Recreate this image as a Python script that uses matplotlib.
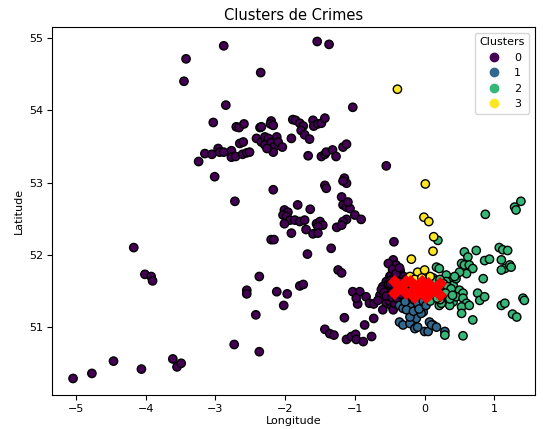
import matplotlib
matplotlib.use('Agg')
import matplotlib.pyplot as plt
import numpy as np

# Cluster 0 (spread over the country)
lon_c0 = [-5.04, -4.77, -4.46, -4.06, -3.61, -3.55, -3.49, -4.17, -4.01, -3.92, -3.90,
          -2.88, -3.42, -3.45, -2.85, -3.03, -2.70, -2.66, -2.59, -2.65, -2.60,
          -3.15, -3.05, -2.96, -2.94, -2.88, -2.77, -2.77, -2.71, -2.61, -2.55, -2.51,
          -3.24, -3.01, -2.72,
          -1.54, -1.37, -2.35, -1.03, -2.36, -2.34, -2.20, -2.21, -2.17, -1.89, -1.85,
          -1.79, -1.74, -1.77, -1.72, -1.65, -1.60, -1.59, -1.53, -1.48, -1.43, -1.91,
          -2.41, -2.34, -2.29, -2.24, -2.29, -2.22, -2.20, -2.15, -2.12, -2.10, -2.04,
          -2.17, -2.26, -1.67, -1.48, -1.43, -1.41, -1.32, -1.27, -1.17, -1.12, -0.55,
          -2.17, -1.43, -1.41, -1.15, -1.12, -1.17, -1.19,
          -1.17, -1.12, -1.07, -1.10, -1.00, -0.91, -1.12, -1.17, -1.26, -1.19,
          -2.01, -1.96, -2.03, -1.98, -1.93, -2.01, -1.86, -1.79, -1.72, -1.82, -1.64,
          -1.70, -1.91, -1.55, -1.50, -1.46, -1.53, -1.60, -1.53, -2.20, -2.16,
          -1.34, -1.68, -0.44, -1.24, -1.19, -2.37, -1.79, -1.74, -2.55, -2.55,
          -2.12, -1.97, -2.02, -2.42, -1.03, -0.93, -0.96, -0.84, -0.79, -0.73,
          -1.15, -0.73, -1.43, -1.36, -1.30, -1.12, -1.05, -0.99, -0.98, -0.88, -0.76,
          -2.73, -2.37,
          -0.45, -0.41, -0.45, -0.50, -0.55, -0.60, -0.57, -0.50, -0.60, -0.55, -0.48,
          -0.41, -0.45, -0.60, -0.64, -0.67, -0.98, -0.86,
          -0.52, -0.35, -0.30, -0.42, -0.25, -0.33, -0.28, -0.38, -0.20, -0.15, -0.35,
          -0.22, -0.47, -0.40, -0.32, -0.52, -0.44, -0.38,
          -0.48, -0.43, -0.37, -0.31, -0.26, -0.53, -0.47, -0.40, -0.34, -0.28, -0.22,
          -0.56, -0.50, -0.44, -0.38, -0.30, -0.46, -0.41, -0.36, -0.27, -0.18, -0.52,
          -0.43, -0.33, -0.62, -0.58, -0.49, -0.39,
          -0.45, -0.39, -0.33, -0.27, -0.21, -0.49, -0.42, -0.35, -0.29, -0.24, -0.55,
          -0.47, -0.40, -0.34]
lat_c0 = [50.29, 50.36, 50.53, 50.42, 50.56, 50.45, 50.50, 52.10, 51.73, 51.70, 51.64,
          54.89, 54.71, 54.40, 54.07, 53.83, 53.77, 53.76, 53.81, 53.54, 53.56,
          53.40, 53.39, 53.47, 53.42, 53.42, 53.44, 53.35, 53.36, 53.39, 53.41, 53.42,
          53.29, 53.08, 52.74,
          54.95, 54.91, 54.52, 54.04, 53.76, 53.77, 53.85, 53.81, 53.79, 53.87, 53.86,
          53.82, 53.78, 53.72, 53.66, 53.60, 53.86, 53.78, 53.81, 53.82, 53.89, 53.61,
          53.61, 53.56, 53.63, 53.61, 53.52, 53.49, 53.55, 53.50, 53.63, 53.56, 53.49,
          53.42, 53.47, 53.37, 53.36, 53.39, 53.42, 53.45, 53.36, 53.49, 53.53, 53.23,
          52.90, 52.96, 52.92, 53.06, 52.99, 53.02, 52.80,
          52.69, 52.66, 52.64, 52.73, 52.55, 52.49, 52.49, 52.46, 52.38, 52.41,
          52.62, 52.59, 52.55, 52.53, 52.48, 52.43, 52.48, 52.46, 52.48, 52.69, 52.63,
          52.35, 52.30, 52.43, 52.46, 52.41, 52.39, 52.29, 52.30, 52.21, 52.21,
          52.09, 52.01, 52.18, 51.79, 51.75, 51.70, 51.57, 51.59, 51.51, 51.46,
          51.49, 51.46, 51.30, 51.17, 51.49, 51.49, 51.32, 51.42, 51.33, 51.32,
          51.13, 51.12, 50.97, 50.91, 50.89, 50.83, 50.87, 50.90, 50.83, 50.80, 50.87,
          50.76, 50.66,
          51.93, 51.86, 51.76, 51.70, 51.63, 51.56, 51.51, 51.44, 51.40, 51.33, 51.30,
          51.35, 51.24, 51.24, 51.44, 51.37, 51.40, 51.03,
          51.88, 51.78, 51.68, 51.62, 51.60, 51.50, 51.45, 51.42, 51.52, 51.55, 51.55,
          51.48, 51.58, 51.66, 51.60, 51.46, 51.38, 51.50,
          51.72, 51.70, 51.66, 51.62, 51.58, 51.54, 51.52, 51.47, 51.44, 51.40, 51.44,
          51.47, 51.36, 51.56, 51.61, 51.70, 51.80, 51.74, 51.82, 51.66, 51.62, 51.60,
          51.33, 51.36, 51.52, 51.48, 51.64, 51.58,
          51.49, 51.51, 51.48, 51.50, 51.46, 51.60, 51.57, 51.62, 51.56, 51.64, 51.43,
          51.41, 51.40, 51.45]

# Cluster 1 (south of the centre)
lon_c1 = [-0.36, -0.31, -0.21, -0.17, -0.12, -0.36, -0.31, -0.21, 0.07, 0.12, -0.02,
          -0.07, 0.29, -0.14, -0.10, 0.00, 0.05, 0.10, 0.17, -0.21, -0.05,
          -0.25, -0.15, -0.05, 0.05, -0.10, -0.28, -0.02,
          -0.20, -0.12, 0.00, 0.08, -0.26, -0.16, -0.08, 0.02]
lat_c1 = [51.30, 51.26, 51.28, 51.17, 51.12, 51.07, 51.03, 51.05, 51.07, 51.03, 51.21,
          51.30, 50.94, 50.98, 51.00, 50.94, 50.94, 51.03, 51.00, 51.14, 51.19,
          51.40, 51.38, 51.42, 51.38, 51.33, 51.35, 51.36,
          51.45, 51.46, 51.45, 51.44, 51.24, 51.22, 51.25, 51.30]

# Cluster 2 (east)
lon_c2 = [0.17, 0.21, 0.31, 0.36, 0.41, 0.45, 0.31, 0.36, 0.41, 0.26, 0.21, 0.36,
          0.19, 0.57, 0.62, 0.74, 0.53, 0.57, 0.64, 0.69, 0.60, 0.50, 0.43, 0.31,
          0.33, 0.41, 0.50, 0.55, 0.45, 0.24, 0.55, 0.60, 0.53, 0.64, 0.53, 0.69,
          0.76, 0.79, 0.86, 0.84, 0.29, 0.55, 1.07, 1.12, 1.19, 0.86, 0.93, 1.10,
          1.15, 1.22, 1.10, 1.24, 1.10, 1.15, 1.41, 1.43, 1.26, 1.32, 0.87, 1.29,
          1.31, 1.38,
          0.05, 0.10, 0.15, 0.20, 0.10, 0.18, 0.25, 0.12, 0.08, 0.22, 0.28, 0.03,
          0.15, 0.22, 0.27, 0.33, 0.38, 0.18, 0.24, 0.30, 0.36, 0.12, 0.20, 0.40]
lat_c2 = [51.83, 51.81, 51.72, 51.63, 51.58, 51.67, 51.49, 51.44, 51.35, 51.40, 51.30, 51.30,
          52.20, 52.04, 51.97, 52.06, 51.88, 51.86, 51.86, 51.81, 51.74, 51.76, 51.70, 51.63,
          51.51, 51.49, 51.51, 51.47, 51.42, 51.33, 51.40, 51.33, 51.28, 51.30, 51.19, 51.10,
          51.47, 51.37, 51.42, 51.67, 50.89, 50.88, 52.10, 52.07, 52.06, 51.92, 51.94, 51.93,
          51.81, 51.86, 51.79, 51.83, 51.30, 51.33, 51.40, 51.37, 51.18, 51.14, 52.56, 52.66,
          52.62, 52.74,
          51.60, 51.55, 51.45, 51.50, 51.42, 51.60, 51.55, 51.68, 51.36, 51.38, 51.48, 51.46,
          51.64, 51.66, 51.60, 51.56, 51.53, 51.40, 51.44, 51.47, 51.39, 51.50, 51.57, 51.44]

# Cluster 3 (north of the centre)
lon_c3 = [-0.39, 0.01, -0.01, 0.06, 0.13, 0.12, -0.19, -0.21, -0.07, 0.00, -0.10,
          0.00, -0.14, 0.04, -0.04, 0.08]
lat_c3 = [54.29, 52.98, 52.52, 52.46, 52.25, 52.05, 51.94, 51.70, 51.72, 51.72, 51.76,
          51.79, 51.66, 51.65, 51.68, 51.70]

# Cluster centres
centre_lon = [-0.36, -0.12, -0.07, 0.14]
centre_lat = [51.55, 51.56, 51.50, 51.53]

lon = np.array(lon_c0 + lon_c1 + lon_c2 + lon_c3)
lat = np.array(lat_c0 + lat_c1 + lat_c2 + lat_c3)
labels = np.array([0] * len(lon_c0) + [1] * len(lon_c1) + [2] * len(lon_c2) + [3] * len(lon_c3))

fig = plt.figure(figsize=(5.43, 4.29), dpi=100)
ax = fig.add_axes([0.096, 0.079, 0.889, 0.858])

sc = ax.scatter(lon, lat, c=labels, cmap='viridis', s=36, edgecolors='k', linewidths=1)
ax.scatter(centre_lon, centre_lat, c='red', marker='X', s=280)

ax.set_xlim(-5.34, 1.58)
ax.set_ylim(50.06, 55.15)
ax.set_title('Clusters de Crimes', fontsize=10.5, pad=5)
ax.set_xlabel('Longitude', fontsize=8, labelpad=1)
ax.set_ylabel('Latitude', fontsize=8)
ax.tick_params(labelsize=8, pad=3)

handles, names = sc.legend_elements(markersize=5)
ax.legend(handles, ['0', '1', '2', '3'], title='Clusters', loc='upper right',
          fontsize=8, title_fontsize=8)

plt.savefig('out.png', dpi=100)
